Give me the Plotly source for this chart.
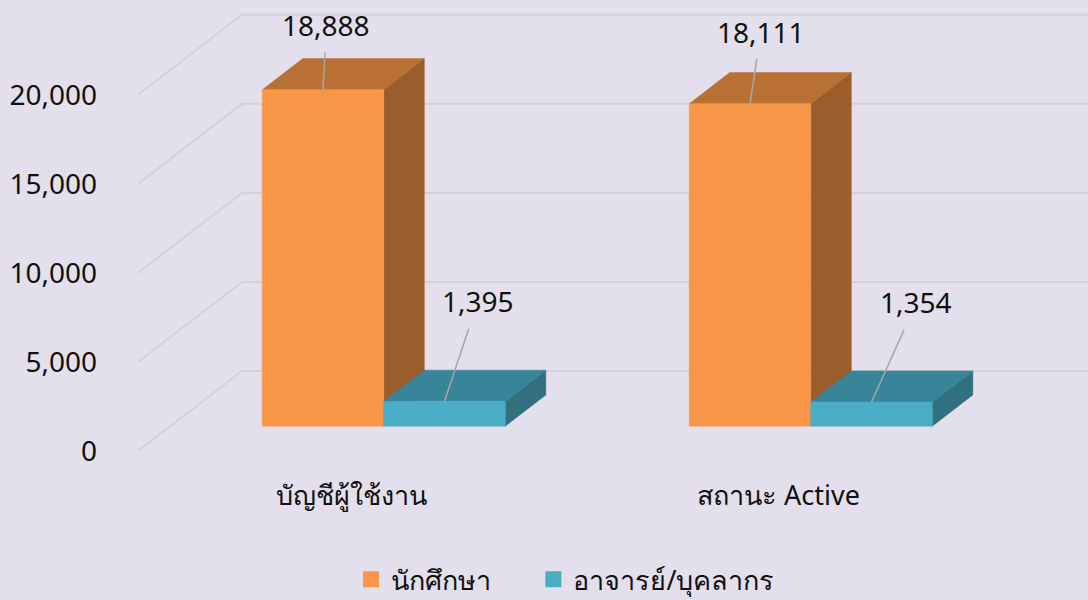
import plotly.graph_objects as go

# ---------------- data ----------------
categories = ["บัญชีผู้ใช้งาน", "สถานะ Active"]
series_names = ["นักศึกษา", "อาจารย์/บุคลากร"]
students = [18888, 18111]
staff = [1395, 1354]
y_ticks = [0, 5000, 10000, 15000, 20000]

# ---------------- styling / geometry ----------------
BG = "#E4DFEC"
FRONT = ["#F79646", "#4BACC6"]
TOP = ["#B97035", "#388498"]
SIDE = ["#9A5D2B", "#31717F"]
GRID = "#D3D0D8"
LEADER = "#A6A6A6"
FONT = "Noto Sans, Tahoma, sans-serif"
FS_NUM = 28
FS_TXT = 27

W, H = 1088, 600
ML, MB = 138, 149
PX_PER_CAT = 427.0            # pixels per category slot
PX_PER_VAL = 0.01781          # pixels per value unit
plot_w = W - ML
plot_h = H - MB
x_range = [-0.5, -0.5 + plot_w / PX_PER_CAT]
y_range = [0, plot_h / PX_PER_VAL]

# oblique depth of the floor (in pixels) converted to axis units
FLOOR_DX = 104 / PX_PER_CAT
FLOOR_DY = 80 / PX_PER_VAL
D_FRONT = 0.31                # bar front plane (fraction of floor depth)
D_BACK = 0.70                 # bar back plane
BAR_W = 121.5 / PX_PER_CAT    # width of one bar in category units

# label offsets (pixels) from the top-front-centre of each bar, keyed (category, series)
label_offsets = {
    (0, 0): (3.5, -65), (1, 0): (11, -72),
    (0, 1): (33.5, -100), (1, 1): (45, -100),
}
# legend positions (paper x) for each series
legend_x = [0.2242, 0.4162]
LEGEND_Y = -0.231

fig = go.Figure()

# oblique gridlines (floor diagonal + back wall)
for v in y_ticks:
    fig.add_trace(go.Scatter(
        x=[x_range[0], x_range[0] + FLOOR_DX, x_range[1] + 0.2],
        y=[v, v + FLOOR_DY, v + FLOOR_DY],
        mode="lines", line=dict(color=GRID, width=2),
        hoverinfo="skip", showlegend=False))

series = [students, staff]
annotations = []
for ci, cat in enumerate(categories):
    for si, vals in enumerate(series):
        v = vals[ci]
        sx0 = D_FRONT * FLOOR_DX
        sy0 = D_FRONT * FLOOR_DY
        ddx = (D_BACK - D_FRONT) * FLOOR_DX
        ddy = (D_BACK - D_FRONT) * FLOOR_DY
        xl = ci + sx0 - BAR_W + si * BAR_W
        xr = xl + BAR_W
        yb = sy0
        yt = sy0 + v
        # side face
        fig.add_trace(go.Scatter(
            x=[xr, xr + ddx, xr + ddx, xr, xr],
            y=[yb, yb + ddy, yt + ddy, yt, yb],
            fill="toself", fillcolor=SIDE[si], mode="lines",
            line=dict(color=SIDE[si], width=0.5),
            hoverinfo="skip", showlegend=False))
        # top face
        fig.add_trace(go.Scatter(
            x=[xl, xr, xr + ddx, xl + ddx, xl],
            y=[yt, yt, yt + ddy, yt + ddy, yt],
            fill="toself", fillcolor=TOP[si], mode="lines",
            line=dict(color=TOP[si], width=0.5),
            hoverinfo="skip", showlegend=False))
        # front face
        fig.add_trace(go.Scatter(
            x=[xl, xr, xr, xl, xl],
            y=[yb, yb, yt, yt, yb],
            fill="toself", fillcolor=FRONT[si], mode="lines",
            line=dict(color=FRONT[si], width=0.5),
            name=series_names[si], text=[f"{v:,}"] * 5,
            hovertemplate="%{text}<extra>" + series_names[si] + "</extra>",
            showlegend=False))
        ax, ay = label_offsets[(ci, si)]
        annotations.append(dict(
            x=(xl + xr) / 2, y=yt, xref="x", yref="y",
            text=f"{v:,}", showarrow=True, arrowhead=0,
            arrowcolor=LEADER, arrowwidth=1.5,
            ax=ax, ay=ay, borderpad=8,
            font=dict(family=FONT, size=FS_NUM, color="#111111")))

# legend entries (one legend box per series so each sits at its own spot)
legend_ids = ["legend", "legend2"]
for si, nm in enumerate(series_names):
    fig.add_trace(go.Scatter(
        x=[None], y=[None], mode="markers", name=nm,
        legend=legend_ids[si],
        marker=dict(symbol="square", size=26, color=FRONT[si])))

legend_common = dict(orientation="h", xanchor="left", y=LEGEND_Y,
                     yanchor="top", itemsizing="trace",
                     font=dict(family=FONT, size=FS_TXT, color="#111111"),
                     bgcolor="rgba(0,0,0,0)",
                     itemclick=False, itemdoubleclick=False)

fig.update_layout(
    width=W, height=H,
    paper_bgcolor=BG, plot_bgcolor=BG,
    margin=dict(l=ML, r=0, t=0, b=MB, autoexpand=False),
    font=dict(family=FONT, size=FS_NUM, color="#111111"),
    annotations=annotations,
    showlegend=True,
    legend=dict(x=legend_x[0], **legend_common),
    legend2=dict(x=legend_x[1], **legend_common),
    xaxis=dict(range=x_range, showgrid=False, zeroline=False,
               showline=False, tickvals=list(range(len(categories))),
               ticktext=categories, ticks="", ticklabelstandoff=26,
               tickfont=dict(size=FS_TXT), fixedrange=True),
    yaxis=dict(range=y_range, showgrid=False, zeroline=False,
               showline=False, tickvals=y_ticks, tickformat=",",
               ticks="", ticklabelstandoff=40, fixedrange=True),
)

fig.write_html("out.html", config={"displayModeBar": False},
               post_script="document.body.style.margin='0';"
                           "document.body.style.background='" + BG + "';")
